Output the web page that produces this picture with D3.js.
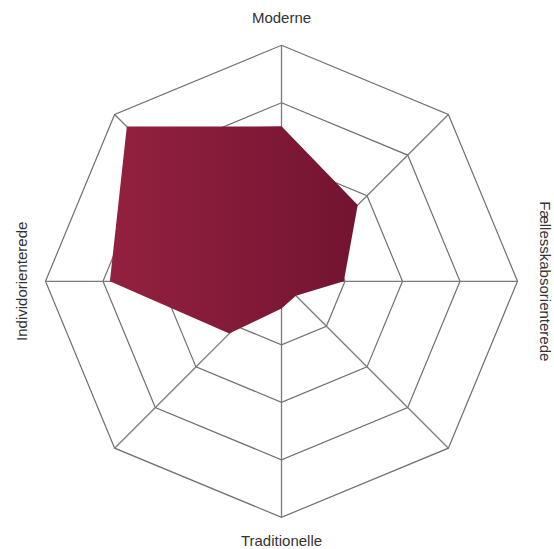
<!DOCTYPE html>
<html>
<head>
<meta charset="utf-8">
<script src="https://cdn.jsdelivr.net/npm/d3@7"></script>
<style>
    body { margin: 0; background: #fff; }
    svg { display: block; }
    .label { font-family: "Liberation Sans", Arial, sans-serif; font-size: 15px; fill: #333; }
</style>
</head>
<body>
<div id="chart"></div>
<script>
// 8 spokes, clockwise from the top; only the 4 main ones carry a label
const axes = ['Moderne', '', 'Fællesskabsorienterede', '', 'Traditionelle', '', 'Individorienterede', ''];
const values = [2.59, 1.77, 0.98, 0.25, 0.37, 1.18, 2.88, 3.7];
const levels = [1, 2, 3, 4];

const width = 554, height = 549;
const cx = 281.5, cy = 281.3;

const svg = d3.select('#chart')
    .append('svg')
    .attr('width', width)
    .attr('height', height);

// gradient for the area
const grad = svg.append('defs').append('linearGradient')
    .attr('id', 'areaGrad')
    .attr('x1', '0%').attr('x2', '100%')
    .attr('y1', '0%').attr('y2', '0%');
grad.append('stop').attr('offset', '0%').attr('stop-color', '#93213f');
grad.append('stop').attr('offset', '100%').attr('stop-color', '#731431');

const g = svg.append('g').attr('transform', `translate(${cx}, ${cy})`);

const r = d3.scaleLinear().domain([0, 4]).range([6, 236]);
const angle = d3.scaleLinear().domain([0, axes.length]).range([0, 2 * Math.PI]);

const radial = d3.lineRadial()
    .angle((d, i) => angle(i))
    .radius(d => r(d))
    .curve(d3.curveLinearClosed);

// grid octagons
g.selectAll('.ring')
    .data(levels)
    .enter().append('path')
    .attr('class', 'ring')
    .attr('d', lv => radial(axes.map(() => lv)))
    .attr('fill', 'none')
    .attr('stroke', '#707070')
    .attr('stroke-width', 1.2);

// spokes
g.selectAll('.spoke')
    .data(axes)
    .enter().append('line')
    .attr('class', 'spoke')
    .attr('x1', 0).attr('y1', 0)
    .attr('x2', (d, i) => r(4) * Math.sin(angle(i)))
    .attr('y2', (d, i) => -r(4) * Math.cos(angle(i)))
    .attr('stroke', '#7a7a7a')
    .attr('stroke-width', 1.3);

// data area
g.append('path')
    .datum(values)
    .attr('d', radial)
    .attr('fill', 'url(#areaGrad)');

// labels
svg.append('text').attr('class', 'label')
    .attr('x', cx).attr('y', 23)
    .attr('text-anchor', 'middle')
    .text(axes[0]);

svg.append('text').attr('class', 'label')
    .attr('x', cx).attr('y', 546)
    .attr('text-anchor', 'middle')
    .text(axes[4]);

svg.append('text').attr('class', 'label')
    .attr('transform', `translate(27, ${cy}) rotate(-90)`)
    .attr('text-anchor', 'middle')
    .text(axes[6]);

svg.append('text').attr('class', 'label')
    .attr('transform', `translate(540, ${cy}) rotate(90)`)
    .attr('text-anchor', 'middle')
    .text(axes[2]);
</script>
</body>
</html>
